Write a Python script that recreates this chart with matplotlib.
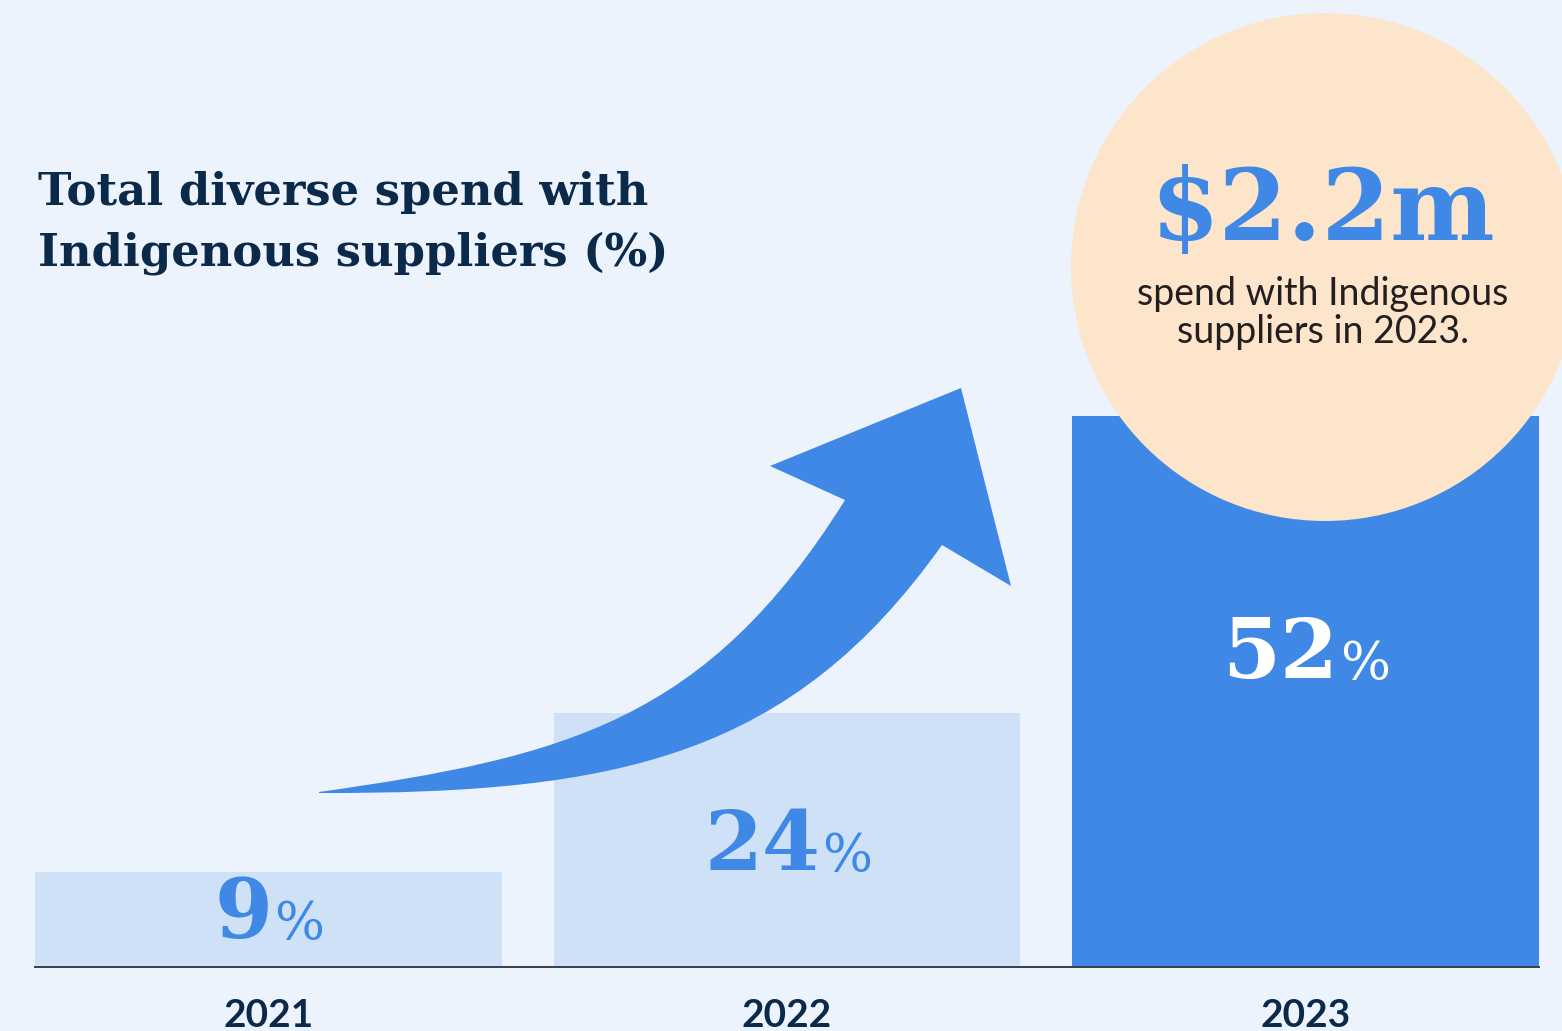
import matplotlib
matplotlib.use("Agg")
import matplotlib.pyplot as plt
from matplotlib.patches import Circle, PathPatch
from matplotlib.path import Path
from matplotlib.transforms import Affine2D, offset_copy

# data
years = ["2021", "2022", "2023"]
share = [9, 24, 52]
label_y = [4.9, 11.3, 29.4]
bar_colors = ["#CFE1F7", "#CFE1F7", "#3F88E5"]
label_colors = ["#3F88E5", "#3F88E5", "#FFFFFF"]
title = "Total diverse spend with\nIndigenous suppliers (%)"
big_value = "$2.2m"
big_note = "spend with Indigenous\nsuppliers in 2023."

W, H = 1562, 1031
BG = "#ECF3FD"
NAVY = "#0B2A4A"
BLUE = "#3F88E5"

fig = plt.figure(figsize=(W / 100, H / 100), dpi=100, facecolor=BG)
ax = fig.add_axes([35 / W, 64 / H, 1504 / W, 636 / H])
ax.set_facecolor(BG)

x = list(range(len(years)))
ax.bar(x, share, width=0.9, color=bar_colors, zorder=2)
ax.set_xlim(-0.45, 2.45)
ax.set_ylim(0, 60)
for s in ["top", "right", "left"]:
    ax.spines[s].set_visible(False)
ax.spines["bottom"].set_color("#3a3d4a")
ax.spines["bottom"].set_linewidth(1.4)
ax.spines["bottom"].set_zorder(4)
ax.set_yticks([])
ax.set_xticks(x)
ax.set_xticklabels(years, family="Lato", fontweight="bold", fontsize=28, color=NAVY)
ax.tick_params(axis="x", length=0, pad=22)

# value labels: big digits + smaller percent sign, centred as a group
r = fig.canvas.get_renderer()
for i, v in enumerate(share):
    t1 = ax.text(x[i], label_y[i], str(v), ha="right", va="center",
                 family="DejaVu Serif", fontweight="bold", fontsize=60,
                 color=label_colors[i], zorder=5)
    t2 = ax.text(x[i], label_y[i] - 0.9, "%", ha="left", va="center",
                 family="DejaVu Serif", fontsize=38,
                 color=label_colors[i], zorder=5)
    w1 = t1.get_window_extent(r).width
    w2 = t2.get_window_extent(r).width
    sh = (w1 - w2) / 2
    t1.set_transform(offset_copy(ax.transData, fig, x=sh, units="dots"))
    t2.set_transform(offset_copy(ax.transData, fig, x=sh + 2, units="dots"))

# pixel transform (image coords, y down)
pix = Affine2D().scale(1, -1).translate(0, H)

# rising arrow decoration
verts = [(319, 793), (619, 794), (792, 756), (942, 545),
         (1011, 586), (961, 388), (770, 466), (845, 500),
         (707, 721), (566, 757), (319, 792), (319, 793)]
codes = [Path.MOVETO, Path.CURVE4, Path.CURVE4, Path.CURVE4,
         Path.LINETO, Path.LINETO, Path.LINETO, Path.LINETO,
         Path.CURVE4, Path.CURVE4, Path.CURVE4, Path.CLOSEPOLY]
ax.add_patch(PathPatch(Path(verts, codes), facecolor=BLUE, edgecolor="none",
                       transform=pix, clip_on=False, zorder=3))

# callout circle
ax.add_patch(Circle((1325, 267), 254, facecolor="#FCE5CB", edgecolor="none",
                    transform=pix, clip_on=False, zorder=3))

fig.text(1323 / W, 1 - 212 / H, big_value, ha="center", va="center",
         family="DejaVu Serif", fontweight="bold", fontsize=71, color=BLUE, zorder=5)
fig.text(1323 / W, 1 - 313 / H, big_note, ha="center", va="center",
         family="Lato", fontsize=27, color="#231F20", linespacing=1.05, zorder=5)

fig.text(38 / W, 1 - 223 / H, title, ha="left", va="center",
         family="DejaVu Serif", fontweight="bold", fontsize=32.3, color=NAVY,
         linespacing=1.5)

fig.savefig("out.png", dpi=100, facecolor=BG)
